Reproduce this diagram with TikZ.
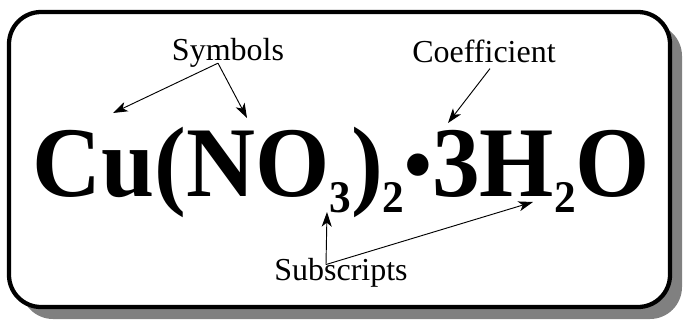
\documentclass[tikz,border=0pt]{standalone}
\usepackage{fontspec}
\setmainfont{Liberation Serif}
\usepackage{xcolor}
\usepackage{tikz}
\usetikzlibrary{arrows.meta, positioning}
\definecolor{frameColor}{RGB}{0,0,0}
\definecolor{shadowColor}{RGB}{128,128,128}
\newcommand{\chemsub}[1]{\raisebox{-12pt}{\fontsize{34}{34}\selectfont #1}}
\newcommand{\chemdot}{\raisebox{3pt}{\fontsize{62}{62}\selectfont •}}
\tikzstyle{panel} = [draw=frameColor, line width=3.2pt, fill=white, rounded corners=24pt]
\tikzstyle{panelshadow} = [fill=shadowColor, rounded corners=24pt]
\tikzstyle{formula} = [inner sep=0pt, font=\fontsize{75}{75}\selectfont\bfseries]
\tikzstyle{callout} = [inner sep=0pt, font=\fontsize{24}{24}\selectfont]
\tikzstyle{pointer} = [line width=0.7pt, -{Stealth[length=11pt, width=7.5pt, inset=3pt]}]

\begin{document}
\begin{tikzpicture}[x=0.75pt, y=-0.75pt]
        \useasboundingbox (0,0) rectangle (683,322);
        \fill [panelshadow] (21,24) rectangle (682,319);
        \draw [panel] (9,12) rectangle (670,307);

        \node (chem) [formula, anchor=base west] at (32,196) {\scalebox{0.955}[1]{Cu(NO\chemsub{3})\chemsub{2}\chemdot3H\chemsub{2}O}};

        \node (sym) [callout, anchor=base] at (228,60) {Symbols};
        \node (coef) [callout, anchor=base] at (484,62) {Coefficient};
        \node (subs) [callout, anchor=base] at (341,280) {Subscripts};

        \coordinate (cu) at (113,113);
        \coordinate (nitro) at (247,118);
        \coordinate (three) at (448,123);
        \coordinate (subthree) at (327,212);
        \coordinate (subtwo) at (533,202);

        \draw [pointer] ([shift={(-10,-4)}]sym.south) -- (cu);
        \draw [pointer] ([shift={(-10,-4)}]sym.south) -- (nitro);
        \draw [pointer] ([shift={(6,6)}]coef.south) -- (three);
        \draw [pointer] ([shift={(-15,7)}]subs.north) -- (subthree);
        \draw [pointer] ([shift={(-15,7)}]subs.north) -- (subtwo);
    \end{tikzpicture}
\end{document}
